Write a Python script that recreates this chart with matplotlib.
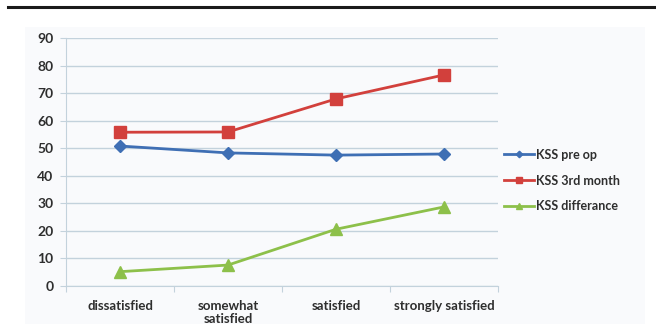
import matplotlib.pyplot as plt
from matplotlib.lines import Line2D
from matplotlib.patches import Rectangle

categories = ["dissatisfied", "somewhat\nsatisfied", "satisfied", "strongly satisfied"]
kss_pre_op = [50.8, 48.3, 47.5, 47.9]
kss_3rd_month = [55.8, 55.9, 67.9, 76.6]
kss_difference = [5.2, 7.6, 20.6, 28.7]
y_ticks = [0, 10, 20, 30, 40, 50, 60, 70, 80, 90]

plt.rcParams["font.family"] = ["Lato", "DejaVu Sans"]
plt.rcParams["font.weight"] = "bold"

W, H = 656, 324
fig = plt.figure(figsize=(W / 100, H / 100), dpi=100, facecolor="white")

# light panel behind the chart and black rule at top
fig.patches.append(Rectangle((25 / W, 0), 620 / W, 1 - 27 / H, transform=fig.transFigure,
                             facecolor="#f9fafc", edgecolor="none", zorder=-5))
fig.add_artist(Line2D([8 / W, 1], [1 - 7 / H, 1 - 7 / H], color="#1a1a1a", linewidth=2.2))

ax = fig.add_axes([66 / W, 1 - 286 / H, (498 - 66) / W, (286 - 38) / H])
ax.set_facecolor("none")
x = range(len(categories))

grid_col = "#c3d2dc"
text_col = "#2e2e2e"
ax.plot(x, kss_pre_op, color="#3f6fb4", marker="D", markersize=6, linewidth=2,
        label="KSS pre op", zorder=3)
ax.plot(x, kss_3rd_month, color="#d2403c", marker="s", markersize=8, linewidth=2,
        label="KSS 3rd month", zorder=3)
ax.plot(x, kss_difference, color="#8dc04a", marker="^", markersize=8, linewidth=2,
        label="KSS differance", zorder=3)

ax.set_xlim(-0.5, len(categories) - 0.5)
ax.set_ylim(0, 90)
ax.set_yticks(y_ticks)
ax.yaxis.grid(True, color=grid_col, linewidth=1)
ax.set_axisbelow(True)
ax.set_xticks([i - 0.5 for i in range(len(categories) + 1)])
ax.set_xticklabels([])
ax.set_xticks(list(x), minor=True)
ax.set_xticklabels(categories, minor=True, fontsize=9.5, color=text_col, fontweight="bold",
                   linespacing=1.1)
ax.tick_params(axis="x", which="minor", length=0, pad=10)
ax.tick_params(axis="x", which="major", length=4, color=grid_col, direction="out")
ax.tick_params(axis="y", length=4, color=grid_col, labelsize=10, labelcolor=text_col, pad=5)
for lab in ax.get_yticklabels():
    lab.set_fontweight("bold")
for side in ["top", "right"]:
    ax.spines[side].set_visible(False)
for side in ["left", "bottom"]:
    ax.spines[side].set_color(grid_col)

leg = ax.legend(loc="center left", bbox_to_anchor=(1.0, 0.425), frameon=False,
                fontsize=9, handlelength=2.4, handletextpad=0.15, labelspacing=1.1,
                markerscale=0.55, borderaxespad=0.1)
for t in leg.get_texts():
    t.set_color(text_col)
    t.set_fontweight("bold")

fig.savefig("out.png", dpi=100)
